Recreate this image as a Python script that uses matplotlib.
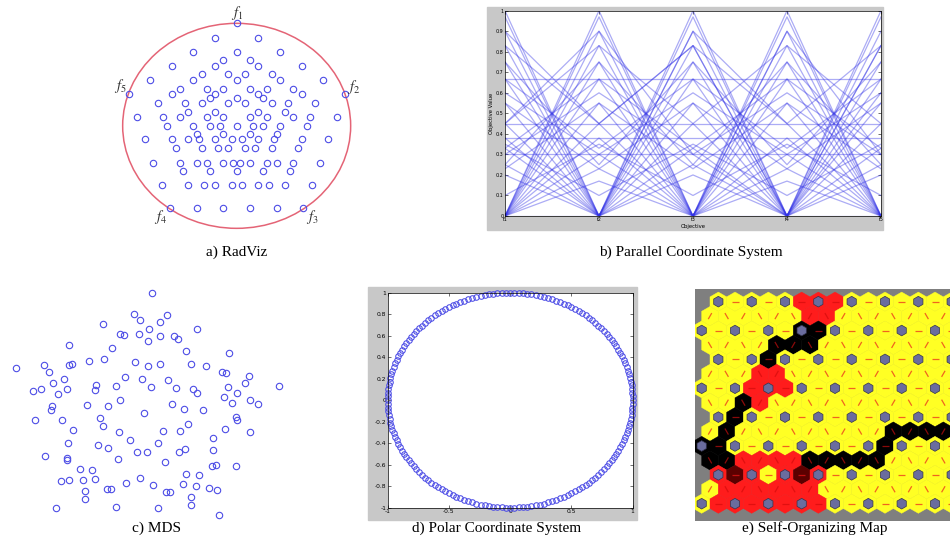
import numpy as np
import matplotlib
matplotlib.use("Agg")
import matplotlib.pyplot as plt
from matplotlib.patches import Ellipse, Rectangle, RegularPolygon

plt.rcParams["mathtext.fontset"] = "stix"

# a) RadViz: projected points and the five anchors (panel pixel units)
radviz_pts = [
    (345, 115), (475, 115),
    (280, 155), (410, 155), (540, 155),
    (370, 180), (450, 180), (345, 197), (475, 197), (215, 197), (605, 197),
    (305, 222), (385, 222), (435, 222), (515, 222), (280, 240), (410, 240),
    (540, 240), (150, 240), (670, 240),
    (240, 267), (320, 267), (370, 267), (450, 267), (500, 267), (580, 267),
    (215, 283), (345, 283), (475, 283), (605, 283), (330, 293), (490, 293),
    (410, 293), (175, 310), (255, 310), (305, 310), (385, 310), (435, 310),
    (515, 310), (565, 310), (645, 310),
    (265, 335), (345, 335), (475, 335), (555, 335),
    (110, 352), (190, 352), (240, 352), (320, 352), (370, 352), (450, 352),
    (500, 352), (580, 352), (630, 352), (710, 352),
    (200, 378), (280, 378), (330, 378), (360, 378), (410, 378), (460, 378),
    (490, 378), (540, 378), (620, 378),
    (290, 402), (370, 402), (450, 402), (530, 402),
    (135, 418), (215, 418), (265, 418), (297, 418), (345, 418), (395, 418),
    (425, 418), (475, 418), (523, 418), (605, 418), (685, 418),
    (227, 445), (307, 445), (355, 445), (385, 445), (435, 445), (465, 445),
    (515, 445), (595, 445),
    (160, 488), (240, 488), (290, 488), (320, 488), (370, 488), (400, 488),
    (420, 488), (450, 488), (500, 488), (530, 488), (580, 488), (660, 488),
    (250, 513), (330, 513), (410, 513), (490, 513), (570, 513),
    (185, 555), (265, 555), (313, 555), (345, 555), (395, 555), (425, 555),
    (475, 555), (507, 555), (555, 555), (635, 555),
    (290, 623), (370, 623), (450, 623), (530, 623),
]
radviz_anchors = [(410, 70), (735, 283), (610, 623), (210, 623), (87, 283)]
anchor_names = ["$f_1$", "$f_2$", "$f_3$", "$f_4$", "$f_5$"]
anchor_label_pos = [(410, 38), (762, 262), (637, 652), (183, 652), (60, 258)]

# b) Parallel coordinates: one row per solution, five objectives
objectives = ["f1", "f2", "f3", "f4", "f5"]
pc_rows = [
    [1.00, 0.00, 1.00, 0.00, 1.00],
    [0.97, 0.00, 0.97, 0.00, 0.97],
    [0.90, 0.00, 0.90, 0.00, 0.90],
    [0.83, 0.00, 0.83, 0.00, 0.83],
    [0.75, 0.00, 0.75, 0.00, 0.75],
    [0.667, 0.00, 0.667, 0.00, 0.667],
    [0.00, 1.00, 0.00, 1.00, 0.00],
    [0.00, 0.97, 0.00, 0.97, 0.00],
    [0.00, 0.90, 0.00, 0.90, 0.00],
    [0.00, 0.83, 0.00, 0.83, 0.00],
    [0.00, 0.75, 0.00, 0.75, 0.00],
    [0.00, 0.667, 0.00, 0.667, 0.00],
    [0.55, 0.00, 0.55, 0.00, 0.55],
    [0.45, 0.00, 0.45, 0.00, 0.45],
    [0.33, 0.00, 0.33, 0.00, 0.33],
    [0.25, 0.00, 0.25, 0.00, 0.25],
    [0.20, 0.00, 0.20, 0.00, 0.20],
    [0.00, 0.55, 0.00, 0.55, 0.00],
    [0.00, 0.38, 0.00, 0.38, 0.00],
    [0.00, 0.30, 0.00, 0.30, 0.00],
    [0.00, 0.23, 0.00, 0.23, 0.00],
    [0.00, 0.17, 0.00, 0.17, 0.00],
    [0.667, 0.33, 0.667, 0.33, 0.667],
    [0.33, 0.667, 0.33, 0.667, 0.33],
    [0.75, 0.25, 0.75, 0.25, 0.75],
    [0.25, 0.75, 0.25, 0.75, 0.25],
    [0.60, 0.30, 0.60, 0.30, 0.60],
    [0.30, 0.60, 0.30, 0.60, 0.30],
    [0.55, 0.23, 0.55, 0.23, 0.55],
    [0.23, 0.55, 0.23, 0.55, 0.23],
    [0.83, 0.45, 0.83, 0.45, 0.83],
    [0.45, 0.83, 0.45, 0.83, 0.45],
    [0.90, 0.45, 0.00, 0.90, 0.30],
    [0.45, 0.90, 0.30, 0.00, 0.83],
    [0.38, 0.00, 0.90, 0.45, 0.00],
    [0.00, 0.45, 0.83, 0.00, 0.60],
    [0.35, 0.10, 0.35, 0.10, 0.35],
    [0.10, 0.35, 0.10, 0.35, 0.10],
    [0.667, 0.667, 0.667, 0.667, 0.667],
    [0.45, 0.45, 0.45, 0.45, 0.45],
    [0.38, 0.38, 0.38, 0.38, 0.38],
    [0.30, 0.30, 0.30, 0.30, 0.30],
    [0.00, 0.00, 0.00, 0.00, 0.00],
]

# c) MDS embedding (panel pixel units)
mds_pts = [
    (455, 40), (402, 102), (502, 106), (420, 120), (480, 125),
    (310, 133), (448, 146), (590, 148),
    (360, 163), (372, 166), (417, 163), (479, 169), (522, 167), (535, 176),
    (445, 182), (206, 196), (335, 203), (557, 214), (687, 218),
    (312, 237), (268, 244), (406, 246), (443, 258), (479, 253), (573, 251),
    (619, 258), (133, 256), (206, 256), (217, 253), (47, 265), (147, 276),
    (665, 276), (677, 279),
    (375, 292), (425, 298), (504, 299), (192, 297), (160, 309), (287, 315),
    (348, 318), (452, 320), (528, 324), (578, 328), (590, 338), (685, 320),
    (748, 288), (735, 308), (836, 319), (98, 333), (124, 328), (202, 326),
    (285, 331), (173, 343), (712, 338),
    (359, 360), (260, 375), (323, 379), (517, 373), (553, 388), (608, 391),
    (673, 352), (697, 368), (749, 360), (773, 373), (157, 378), (154, 391),
    (431, 400), (105, 421), (185, 421), (301, 415), (310, 439), (708, 410),
    (710, 419),
    (564, 431), (490, 453), (540, 453), (219, 451), (358, 456), (390, 479),
    (674, 446), (751, 455), (638, 474),
    (204, 488), (293, 496), (323, 505), (475, 490), (412, 517), (441, 515),
    (536, 516), (555, 508), (639, 511), (134, 528), (202, 533), (202, 540),
    (353, 538), (495, 545),
    (241, 568), (277, 570), (636, 559), (648, 556), (708, 559),
    (182, 604), (206, 600), (248, 601), (285, 598), (378, 610), (419, 595),
    (460, 616), (548, 613), (559, 583), (598, 586), (588, 617), (627, 623),
    (652, 629),
    (256, 634), (321, 628), (333, 628), (498, 637), (510, 637), (573, 652),
    (256, 657),
    (168, 684), (348, 680), (475, 684), (573, 674), (658, 706),
]

# d) Polar coordinate system: angle of each solution in degrees, unit radius
polar_theta = [
    0, 2, 4, 6, 8, 10, 12, 14, 16, 18, 20, 22, 24, 26, 28, 30, 32, 34, 36, 38,
    40, 42, 44, 46, 48, 50, 52, 54, 56, 58, 60, 62, 64, 66, 68, 70, 72, 74, 76,
    78, 80, 82, 84, 86, 88, 90, 92, 94, 96, 98, 100, 102, 104, 106, 108, 110,
    112, 114, 116, 118, 120, 122, 124, 126, 128, 130, 132, 134, 136, 138, 140,
    142, 144, 146, 148, 150, 152, 154, 156, 158, 160, 162, 164, 166, 168, 170,
    172, 174, 176, 178, 180, 182, 184, 186, 188, 190, 192, 194, 196, 198, 200,
    202, 204, 206, 208, 210, 212, 214, 216, 218, 220, 222, 224, 226, 228, 230,
    232, 234, 236, 238, 240, 242, 244, 246, 248, 250, 252, 254, 256, 258, 260,
    262, 264, 266, 268, 270, 272, 274, 276, 278, 280, 282, 284, 286, 288, 290,
    292, 294, 296, 298, 300, 302, 304, 306, 308, 310, 312, 314, 316, 318, 320,
    322, 324, 326, 328, 330, 332, 334, 336, 338, 340, 342, 344, 346, 348, 350,
    352, 354, 356, 358,
]
polar_r = [1.0] * len(polar_theta)

# e) SOM U-matrix: (row, col) of cells that are not yellow
som_red = [(0, 14), (0, 16), (0, 18), (1, 15), (1, 17), (5, 9), (5, 11),
           (6, 8), (6, 10), (6, 12), (7, 9), (11, 7), (11, 9), (11, 11),
           (11, 13), (12, 4), (12, 8), (12, 12), (12, 16), (13, 5), (13, 7),
           (13, 9), (13, 11), (13, 13), (13, 15), (14, 4), (14, 6), (14, 8),
           (14, 10), (14, 12), (14, 14), (14, 16)]
som_black = [(2, 14), (2, 16), (3, 11), (3, 13), (3, 15), (4, 10), (7, 7),
             (8, 6), (9, 5), (10, 2), (10, 4), (11, 3), (11, 5), (11, 15),
             (11, 17), (11, 19), (11, 21), (11, 23), (10, 24), (9, 25),
             (9, 27), (9, 29), (9, 31)]
som_darkred = [(12, 6), (12, 14)]
som_rows = 15

W, H = 950, 539
fig = plt.figure(figsize=(W / 100, H / 100), dpi=100)


def box(x0, y0, x1, y1):
    """figure-fraction rect from pixel corners (top-left origin)"""
    return [x0 / W, 1 - y1 / H, (x1 - x0) / W, (y1 - y0) / H]


serif = "Liberation Serif"
cap_size = 11
blue = "#4d4de6"

# ---- a) RadViz
ax = fig.add_axes(box(100, 0, 370, 240))
ax.set_xlim(0, 810)
ax.set_ylim(720, 0)
ax.axis("off")
ax.add_patch(Ellipse((410, 377.5), 684, 615, fill=False, ec="#e46476", lw=1.1))
px, py = zip(*(radviz_pts + radviz_anchors))
ax.plot(px, py, "o", ms=4.6, mfc="none", mec=blue, mew=0.8, clip_on=False)
for name, (lx, ly) in zip(anchor_names, anchor_label_pos):
    ax.text(lx, ly, name, ha="center", va="center", fontsize=10.5,
            color="#333333")
fig.text(237 / W, 1 - 252 / H, "a) RadViz", ha="center", va="center",
         family=serif, fontsize=cap_size)

# ---- b) Parallel coordinates
fig.patches.append(Rectangle((487 / W, 1 - 230 / H), 396 / W, 223 / H,
                             transform=fig.transFigure, color="#c8c8c8",
                             zorder=-10))
ax = fig.add_axes(box(505, 10.7, 881, 216))
xs = np.arange(1, len(objectives) + 1)
for row in pc_rows:
    ax.plot(xs, row, color="#3030e6", alpha=0.4, lw=0.9)
ax.set_xlim(1, 5)
ax.set_ylim(0, 1)
ax.set_xticks(xs)
ax.set_xticklabels(objectives)
ax.set_yticks(np.linspace(0, 1, 11))
ax.set_yticklabels(["0", "0.1", "0.2", "0.3", "0.4", "0.5", "0.6", "0.7",
                    "0.8", "0.9", "1"])
ax.tick_params(direction="in", length=2, width=0.4, labelsize=3.5, pad=1,
               top=True, right=True)
ax.set_xlabel("Objective", fontsize=3.8, labelpad=1)
ax.set_ylabel("Objective Value", fontsize=3.8, labelpad=1)
for s in ax.spines.values():
    s.set_linewidth(0.5)
fig.text(691 / W, 1 - 252 / H, "b) Parallel Coordinate System", ha="center",
         va="center", family=serif, fontsize=cap_size)

# ---- c) MDS
ax = fig.add_axes(box(0, 280, 300, 520))
ax.set_xlim(0, 900)
ax.set_ylim(720, 0)
ax.axis("off")
mx, my = zip(*mds_pts)
ax.plot(mx, my, "o", ms=4.6, mfc="none", mec=blue, mew=0.8, clip_on=False)
fig.text(157 / W, 1 - 528 / H, "c) MDS", ha="center", va="center",
         family=serif, fontsize=cap_size)

# ---- d) Polar coordinate system
fig.patches.append(Rectangle((368 / W, 1 - 520 / H), 269 / W, 233 / H,
                             transform=fig.transFigure, color="#c8c8c8",
                             zorder=-10))
ax = fig.add_axes(box(387.7, 292.7, 632.7, 507.7))
t = np.radians(polar_theta)
ax.plot(np.array(polar_r) * np.cos(t), np.array(polar_r) * np.sin(t), "o",
        ms=4.0, mfc="none", mec=blue, mew=0.75, clip_on=False)
ax.set_xlim(-1, 1)
ax.set_ylim(-1, 1)
ax.set_xticks([-1, -0.5, 0, 0.5, 1])
ax.set_xticklabels(["-1", "-0.5", "0", "0.5", "1"])
ax.set_yticks(np.linspace(-1, 1, 11))
ax.set_yticklabels(["-1", "-0.8", "-0.6", "-0.4", "-0.2", "0", "0.2", "0.4",
                    "0.6", "0.8", "1"])
ax.tick_params(direction="in", length=2, width=0.4, labelsize=4.3, pad=1,
               top=True, right=True)
for s in ax.spines.values():
    s.set_linewidth(0.5)
fig.text(497 / W, 1 - 528 / H, "d) Polar Coordinate System", ha="center",
         va="center", family=serif, fontsize=cap_size)

# ---- e) Self-organizing map (U-matrix on a hex grid)
ax = fig.add_axes(box(695, 289.3, 950, 520.7))
ax.set_facecolor("#7f7f7f")
ax.set_xlim(1.2, 31.8)
ax.set_ylim(-26.29, 1.485)
ax.set_xticks([])
ax.set_yticks([])
for s in ax.spines.values():
    s.set_visible(False)

cell_colour = {}
for rc in som_red:
    cell_colour[rc] = "#ff1c1c"
for rc in som_black:
    cell_colour[rc] = "#000000"
for rc in som_darkred:
    cell_colour[rc] = "#5c0000"
dash_colour = {"#ffff24": "#f0641e", "#ff1c1c": "#e01010",
               "#000000": "#8a0a0a", "#5c0000": "#c01010"}

rstep = np.sqrt(3)
hex_r = 2 / np.sqrt(3)
for r in range(som_rows):
    if r % 2:
        cols = range(3, 34, 2)
    elif r % 4 == 0:
        cols = range(4, 34, 2)
    else:
        cols = range(2, 34, 2)
    for c in cols:
        x, y = c, -r * rstep
        col = cell_colour.get((r, c), "#ffff24")
        ax.add_patch(RegularPolygon((x, y), 6, radius=hex_r, orientation=0,
                                    fc=col, ec=col, lw=0.3))
        is_node = r % 2 == 0 and ((r % 4 == 0 and c % 4 == 0) or
                                  (r % 4 == 2 and c % 4 == 2))
        if is_node:
            ax.add_patch(RegularPolygon((x, y), 6, radius=0.64, orientation=0,
                                        fc="#6a6c9e", ec="#34344e", lw=0.5,
                                        zorder=3))
            continue
        if r % 2 == 0:
            ang = 0.0
        else:
            upper_right = ((r - 1) % 4 == 0) == ((c + 1) % 4 == 0)
            ang = 60.0 if upper_right else 120.0
        dx = 0.42 * np.cos(np.radians(ang))
        dy = 0.42 * np.sin(np.radians(ang))
        ax.plot([x - dx, x + dx], [y - dy, y + dy], color=dash_colour[col],
                lw=0.9, solid_capstyle="butt", zorder=2)

fig.text(815 / W, 1 - 528 / H, "e) Self-Organizing Map", ha="center",
         va="center", family=serif, fontsize=cap_size)

fig.savefig("out.png", dpi=100)
